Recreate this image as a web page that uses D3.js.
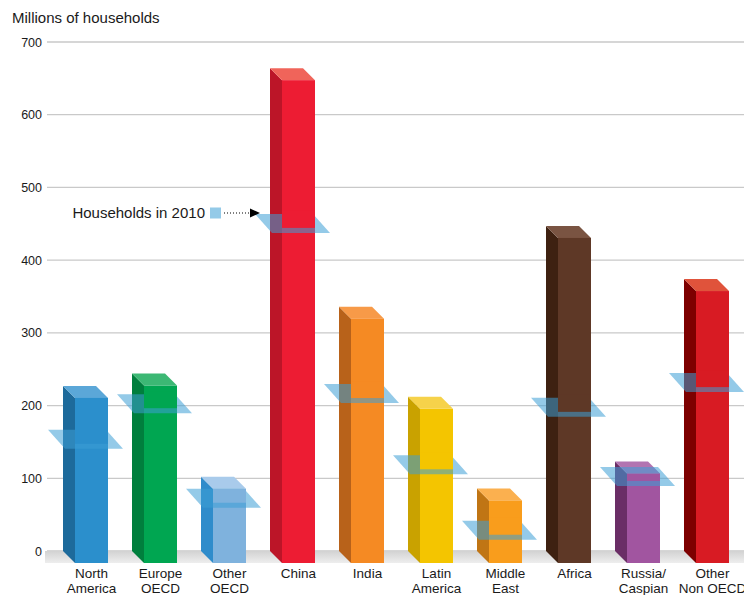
<!DOCTYPE html>
<html>
<head>
<meta charset="utf-8">
<script src="https://cdn.jsdelivr.net/npm/d3@7/dist/d3.min.js"></script>
<style>
  html, body { margin: 0; padding: 0; background: #fff; }
  svg { display: block; font-family: "Liberation Sans", Arial, Helvetica, sans-serif; }
</style>
</head>
<body>
<svg id="chart" width="744" height="595"></svg>
<script>
// ---- data ----
const categories = ["North America","Europe OECD","Other OECD","China","India","Latin America","Middle East","Africa","Russia/Caspian","Other Non OECD"];
const labelLines = [["North","America"],["Europe","OECD"],["Other","OECD"],["China"],["India"],["Latin","America"],["Middle","East"],["Africa"],["Russia/","Caspian"],["Other","Non OECD"]];
const households2035 = [227, 244, 102, 664, 336, 212, 86, 447, 123, 374];
const households2010 = [157, 206, 76, 454, 220, 122, 32, 201, 106, 235];
const yTicks = [0, 100, 200, 300, 400, 500, 600, 700];
const frontColors = ["#2b8fcc","#00a651","#7fb2dd","#ed1c33","#f58a23","#f4c500","#f99d1c","#5e3826","#a155a0","#d81b23"];
const sideColors  = ["#1d6a9b","#007f3d","#2f8ccb","#bc1528","#b8621a","#c9a200","#c07514","#3e2111","#6a2e66","#7d0000"];
const topColors   = ["#5ba7d8","#3cb874","#a9cbeb","#f0645a","#f79a48","#f6d24a","#fbb04f","#7a5442","#b274b1","#e0533b"];

const svg = d3.select("#chart");
const W = 744;

const y = d3.scaleLinear().domain([0, 700]).range([551, 42]);
const x = d3.scaleBand().domain(categories).range([56, 746]).paddingInner(0).paddingOuter(0);
const D = 12;          // bar depth (px)
const faceOff = 19;    // front face offset inside band
const faceW = 33;      // front face width

// floor gradient
const defs = svg.append("defs");
const g1 = defs.append("linearGradient").attr("id","floor").attr("x1",0).attr("y1",0).attr("x2",0).attr("y2",1);
g1.append("stop").attr("offset","0%").attr("stop-color","#d2d2d2");
g1.append("stop").attr("offset","100%").attr("stop-color","#eeeeee");

// y-axis title
svg.append("text").attr("x", 12).attr("y", 23)
  .attr("font-size", 15).attr("fill", "#1a1a1a").text("Millions of households");

// tick labels
const yAxis = d3.axisLeft(y).tickValues(yTicks).tickSize(0).tickPadding(0);
const ga = svg.append("g").attr("transform", "translate(42,0)").call(yAxis);
ga.select(".domain").remove();
ga.selectAll("text").attr("font-size", 12.5).attr("fill", "#1a1a1a")
  .attr("font-family", "Liberation Sans, Arial, sans-serif");

// gridlines
svg.append("g").selectAll("line").data(yTicks).join("line")
  .attr("x1", 47).attr("x2", W)
  .attr("y1", d => y(d)).attr("y2", d => y(d))
  .attr("stroke", "#c9c9c9").attr("stroke-width", 1.3);

// floor
svg.append("rect").attr("x", 45).attr("y", y(0)).attr("width", W - 45).attr("height", D)
  .attr("fill", "url(#floor)");

// bars
const bars = svg.append("g").selectAll("g").data(categories).join("g");
bars.each(function(c, i) {
  const g = d3.select(this);
  const fx = x(c) + faceOff;
  const yb = y(households2035[i]);      // back top edge
  const yf = yb + D;                    // front top edge
  const y0f = y(0) + D;                 // front bottom
  // side face
  g.append("polygon")
    .attr("points", [[fx, yf],[fx, y0f],[fx - D, y0f - D],[fx - D, yb]].map(p => p.join(",")).join(" "))
    .attr("fill", sideColors[i]);
  // top face
  g.append("polygon")
    .attr("points", [[fx - D, yb],[fx + faceW - D, yb],[fx + faceW, yf],[fx, yf]].map(p => p.join(",")).join(" "))
    .attr("fill", topColors[i]);
  // front face
  g.append("rect").attr("x", fx).attr("y", yf).attr("width", faceW).attr("height", y0f - yf)
    .attr("fill", frontColors[i]);

  // 2010 plane
  const pf = y(households2010[i]) + D;   // plane front edge
  const pL = fx - 10, pR = fx + faceW + 15;
  g.append("polygon")
    .attr("points", [[pL, pf],[pR, pf],[pR - 17, pf - 19],[pL - 17, pf - 19]].map(p => p.join(",")).join(" "))
    .attr("fill", "#3d9fd6").attr("fill-opacity", 0.55);
  // front face portion hiding the plane behind it
  const hideTop = Math.max(yf, pf - 22);
  const hideBot = pf - 5;
  if (hideBot > hideTop) {
    g.append("rect").attr("x", fx).attr("y", hideTop).attr("width", faceW).attr("height", hideBot - hideTop)
      .attr("fill", frontColors[i]);
  }
});

// category labels
const labels = svg.append("g").selectAll("text").data(categories).join("text")
  .attr("text-anchor", "middle").attr("font-size", 13.5).attr("fill", "#1a1a1a")
  .attr("x", d => x(d) + faceOff + faceW / 2).attr("y", 578);
labels.each(function(c, i) {
  d3.select(this).selectAll("tspan").data(labelLines[i]).join("tspan")
    .attr("x", x(c) + faceOff + faceW / 2)
    .attr("dy", (d, j) => j === 0 ? 0 : 15)
    .text(d => d);
});

// legend annotation
const ly = 213;
svg.append("text").attr("x", 205).attr("y", ly + 5).attr("text-anchor", "end")
  .attr("font-size", 15).attr("fill", "#1a1a1a").text("Households in 2010");
svg.append("rect").attr("x", 210).attr("y", ly - 5.5).attr("width", 11).attr("height", 11)
  .attr("fill", "#3d9fd6").attr("fill-opacity", 0.55);
svg.append("line").attr("x1", 224).attr("x2", 250).attr("y1", ly).attr("y2", ly)
  .attr("stroke", "#000").attr("stroke-width", 1.2).attr("stroke-dasharray", "1,2");
svg.append("polygon").attr("points", `250,${ly - 4.5} 260,${ly} 250,${ly + 4.5}`).attr("fill", "#000");
</script>
</body>
</html>
